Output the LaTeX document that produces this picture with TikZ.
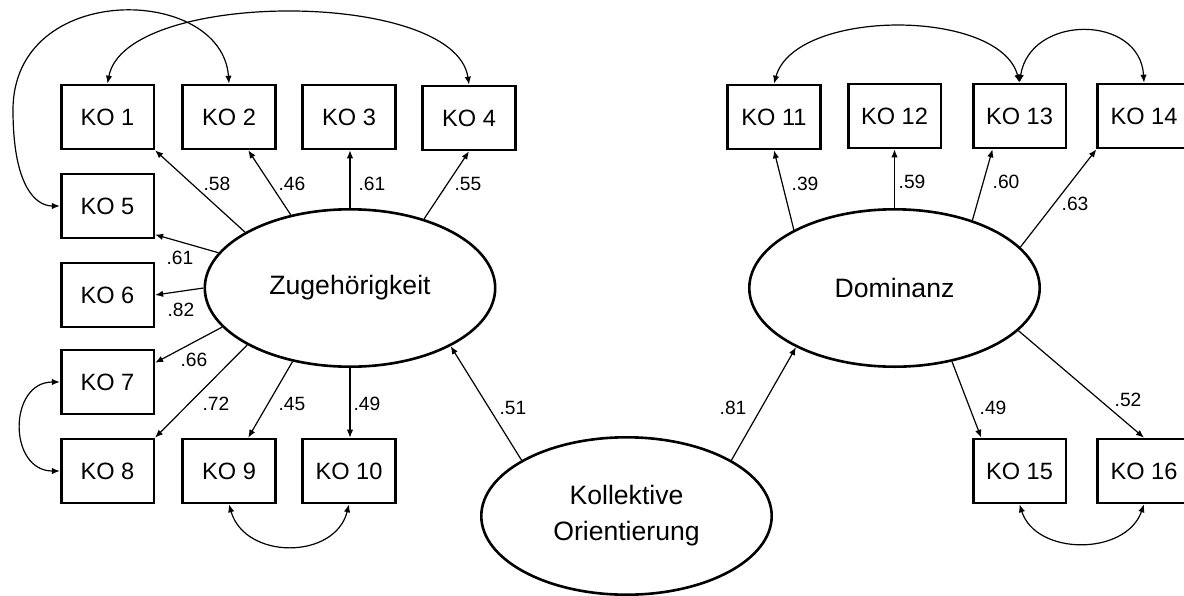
\documentclass[tikz,border=0pt]{standalone}
\usepackage{fontspec}
\setmainfont{Liberation Sans}
\usetikzlibrary{arrows.meta,shapes.geometric}
\begin{document}
\begin{tikzpicture}[x=0.5pt,y=-0.5pt,
  obs/.style={draw,line width=1.3pt,minimum width=46.3pt,minimum height=32pt,inner sep=0pt,font=\fontsize{11.8}{14}\selectfont},
  lat/.style={draw,ellipse,line width=1.3pt,minimum width=145.2pt,minimum height=78.7pt,inner sep=0pt,align=center,font=\fontsize{13.3}{18}\selectfont},
  load/.style={line width=0.6pt,-{Latex[length=4pt,width=3.2pt]}},
  cov/.style={line width=0.6pt,{Latex[length=4pt,width=3.2pt]}-{Latex[length=4pt,width=3.2pt]}},
  lbl/.style={font=\fontsize{9.6}{11}\selectfont,inner sep=0pt}
]
\useasboundingbox (0,0) rectangle (1184,595);

% observed indicators
\node[obs] (ko1) at (107.5,117) {KO 1};
\node[obs] (ko2) at (229,117) {KO 2};
\node[obs] (ko3) at (349,117) {KO 3};
\node[obs] (ko4) at (469,118) {KO 4};
\node[obs] (ko5) at (107.5,206) {KO 5};
\node[obs] (ko6) at (107.5,295) {KO 6};
\node[obs] (ko7) at (107.5,382) {KO 7};
\node[obs] (ko8) at (107.5,471) {KO 8};
\node[obs] (ko9) at (229,471) {KO 9};
\node[obs] (ko10) at (349,471) {KO 10};
\node[obs] (ko11) at (774,117) {KO 11};
\node[obs] (ko12) at (894.5,116) {KO 12};
\node[obs] (ko13) at (1019.5,116) {KO 13};
\node[obs] (ko14) at (1144,116) {KO 14};
\node[obs] (ko15) at (1019.5,471) {KO 15};
\node[obs] (ko16) at (1144,471) {KO 16};

% latent variables
\node[lat] (zug) at (350,288) {Zugehörigkeit};
\node[lat] (dom) at (894.5,288) {Dominanz};
\node[lat] (koll) at (626.5,516) {Kollektive\\Orientierung};

% loadings
\draw[load] (zug.152) -- (ko1.south east);
\draw[load] (zug.129) -- (ko2.-60);
\draw[load] (zug.90) -- (zug.90 |- ko3.south);
\draw[load] (zug.43) -- (ko4.south);
\draw[load] (zug.165) -- (ko5.-31);
\draw[load] (zug.180) -- (ko6.east);
\draw[load] (zug.197) -- (ko7.22);
\draw[load] (zug.209) -- (ko8.north east);
\draw[load] (zug.232) -- (ko9.60);
\draw[load] (zug.270) -- (zug.270 |- ko10.north);
\draw[load] (koll.152) -- (zug.330);
\draw[load] (koll.28) -- (dom.211);
\draw[load] (dom.150) -- (ko11.south);
\draw[load] (dom.90) -- (dom.90 |- ko12.south);
\draw[load] (dom.41) -- (ko13.231);
\draw[load] (dom.18) -- (ko14.south west);
\draw[load] (dom.308) -- (ko15.139);
\draw[load] (dom.341) -- (ko16.north);

% covariances
\draw[cov] (ko1.north) .. controls (125,-11) and (455,-11) .. (ko4.north);
\draw[cov] (ko2.north) .. controls (222,-15) and (13,-20) .. (13,110) .. controls (13,185) and (35,206) .. (ko5.west);
\draw[cov] (ko7.west) .. controls (8,382) and (8,471) .. (ko8.west);
\draw[cov] (ko9.south) .. controls (245,560) and (335,560) .. (ko10.south);
\draw[cov] (ko11.north) .. controls (795,8) and (1000,8) .. (ko13.north);
\draw[cov] (ko13.north) .. controls (1030,14) and (1140,14) .. (ko14.north);
\draw[cov] (ko15.south) .. controls (1036,556) and (1126,556) .. (ko16.south);

% labels
\node[lbl] (l1) at (217,184) {.58};
\node[lbl] (l2) at (292,184) {.46};
\node[lbl] (l3) at (372,184) {.61};
\node[lbl] (l4) at (468,184) {.55};
\node[lbl] (l5) at (180,258) {.61};
\node[lbl] (l6) at (181,310) {.82};
\node[lbl] (l7) at (194,360) {.66};
\node[lbl] (l8) at (216,404) {.72};
\node[lbl] (l9) at (292,404) {.45};
\node[lbl] (l10) at (367,404) {.49};
\node[lbl] (l11) at (513,408) {.51};
\node[lbl] (l12) at (733,408) {.81};
\node[lbl] (l13) at (805,184) {.39};
\node[lbl] (l14) at (912,182) {.59};
\node[lbl] (l15) at (1006,182) {.60};
\node[lbl] (l16) at (1075,204) {.63};
\node[lbl] (l17) at (993,408) {.49};
\node[lbl] (l18) at (1128,400) {.52};
\end{tikzpicture}
\end{document}
